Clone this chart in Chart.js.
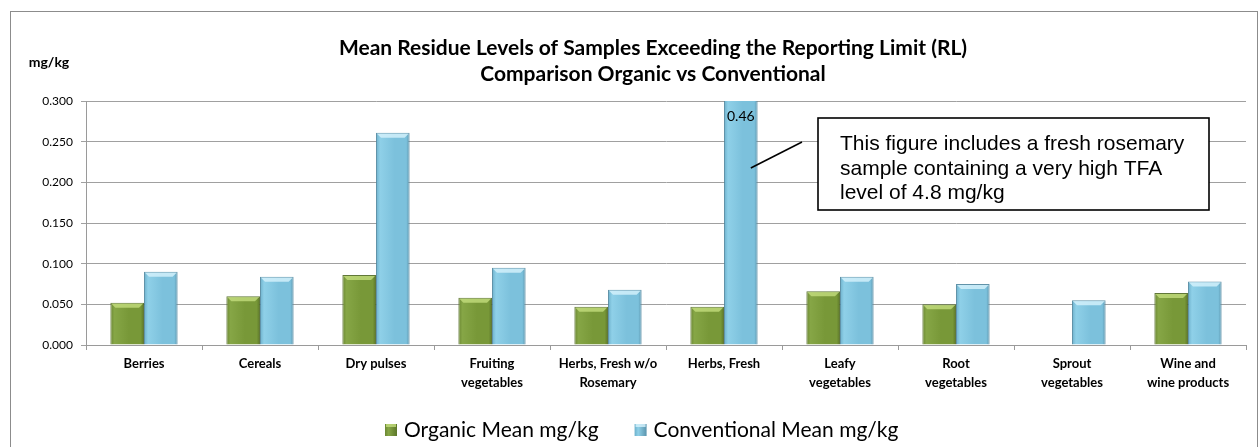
<!DOCTYPE html>
<html>
<head>
<meta charset="utf-8">
<script src="https://cdn.jsdelivr.net/npm/chart.js@4/dist/chart.umd.min.js"></script>
<style>
  html, body { margin: 0; padding: 0; background: #ffffff; }
  #wrap { width: 1260px; height: 447px; }
</style>
</head>
<body>
<div id="wrap"><canvas id="c" width="1260" height="447"></canvas></div>
<script>
// ---- data ----
const categories = [
  "Berries", "Cereals", "Dry pulses", ["Fruiting", "vegetables"],
  ["Herbs, Fresh w/o", "Rosemary"], "Herbs, Fresh", ["Leafy", "vegetables"],
  ["Root", "vegetables"], ["Sprout", "vegetables"], ["Wine and", "wine products"]
];
const organicMean = [0.052, 0.060, 0.086, 0.058, 0.047, 0.047, 0.066, 0.050, null, 0.064];
const conventionalMean = [0.090, 0.084, 0.261, 0.095, 0.068, 0.46, 0.084, 0.075, 0.055, 0.078];
const seriesNames = ["Organic Mean mg/kg", "Conventional Mean mg/kg"];
const yMin = 0, yMax = 0.3, yStep = 0.05;
const titleLines = [
  "Mean Residue Levels of Samples Exceeding the Reporting Limit (RL)",
  "Comparison Organic vs Conventional"
];
const yUnit = "mg/kg";
const noteLines = [
  "This figure includes a fresh rosemary",
  "sample containing a very high TFA",
  "level of 4.8 mg/kg"
];
const noteIndex = 5; // Herbs, Fresh

// ---- styles ----
const CAT_PCT = 0.58;
const palette = [
  { edge: "#6b8733", light: "#86a646", mid: "#789838", dark: "#5c7729", top: "rgba(200,225,130,0.75)", border: "rgba(80,105,35,0.9)" },
  { edge: "#6cb0cb", light: "#8fd0e8", mid: "#7cc1dc", dark: "#5a94ad", top: "rgba(215,242,252,0.8)", border: "rgba(80,135,160,0.9)" }
];

function barFill(ctx) {
  const p = palette[ctx.datasetIndex];
  const chart = ctx.chart;
  if (ctx.type !== 'data' || !chart.chartArea || !chart.scales.x) return p.mid;
  const xs = chart.scales.x;
  const cw = xs.width / categories.length;
  const barW = cw * CAT_PCT / 2;
  const center = xs.getPixelForValue(ctx.dataIndex);
  const left = center - cw * CAT_PCT / 2 + ctx.datasetIndex * barW;
  const g = chart.ctx.createLinearGradient(left, 0, left + barW, 0);
  g.addColorStop(0, p.edge);
  g.addColorStop(0.12, p.light);
  g.addColorStop(0.55, p.mid);
  g.addColorStop(0.9, p.mid);
  g.addColorStop(1, p.dark);
  return g;
}

const decor = {
  id: 'decor',
  beforeDraw(chart) {
    const c = chart.ctx;
    c.save();
    c.fillStyle = '#ffffff';
    c.fillRect(0, 0, chart.width, chart.height);
    c.strokeStyle = '#8c8c8c';
    c.lineWidth = 1;
    c.strokeRect(10.5, 11.5, 1247, 460);
    c.restore();
  },
  afterDatasetsDraw(chart) {
    const c = chart.ctx;
    const area = chart.chartArea;
    c.save();
    c.beginPath();
    c.rect(area.left, area.top, area.right - area.left, area.bottom - area.top);
    c.clip();
    chart.data.datasets.forEach((ds, di) => {
      const meta = chart.getDatasetMeta(di);
      meta.data.forEach((bar, i) => {
        if (ds.data[i] == null) return;
        if (bar.y < area.top) return;
        const w = bar.width;
        const top = bar.y;
        c.fillStyle = palette[di].top;
        c.beginPath();
        c.moveTo(bar.x - w / 2 + 1, top + 1);
        c.lineTo(bar.x + w / 2 - 1, top + 1);
        c.lineTo(bar.x + w / 2 - 5, top + 5);
        c.lineTo(bar.x - w / 2 + 5, top + 5);
        c.closePath();
        c.fill();
      });
    });
    c.restore();
  },
  afterDraw(chart) {
    const c = chart.ctx;
    const area = chart.chartArea;
    c.save();
    // title
    c.fillStyle = '#000';
    c.textAlign = 'center';
    c.textBaseline = 'middle';
    c.font = 'bold 21px Lato, "Open Sans", sans-serif';
    c.fillText(titleLines[0], 653, 48);
    c.fillText(titleLines[1], 653, 74);
    // unit label
    c.font = 'bold 14px Lato, "Open Sans", sans-serif';
    c.fillText(yUnit, 49, 62);
    // value label for clipped bar
    const meta = chart.getDatasetMeta(1);
    const bar = meta.data[noteIndex];
    c.font = '14px Lato, "Open Sans", sans-serif';
    c.fillText(conventionalMean[noteIndex].toFixed(2), bar.x, area.top + 15);
    // leader line
    c.strokeStyle = '#000';
    c.lineWidth = 1.5;
    c.beginPath();
    c.moveTo(802, 142);
    c.lineTo(bar.x + 10, 168);
    c.stroke();
    // note box
    c.fillStyle = '#fff';
    c.fillRect(818, 118, 391, 92);
    c.lineWidth = 1.6;
    c.strokeRect(818, 118, 391, 92);
    c.fillStyle = '#000';
    c.textAlign = 'left';
    c.textBaseline = 'alphabetic';
    c.font = '21px "Liberation Sans", Arial, sans-serif';
    noteLines.forEach((t, i) => c.fillText(t, 840, 150 + i * 24.5));
    // legend
    c.font = '21px Lato, "Open Sans", sans-serif';
    c.textBaseline = 'middle';
    let x = 385;
    const ly = 430;
    seriesNames.forEach((name, i) => {
      const p = palette[i];
      const g = c.createLinearGradient(x, 0, x + 12, 0);
      g.addColorStop(0, p.edge); g.addColorStop(0.3, p.light); g.addColorStop(1, p.dark);
      c.fillStyle = g;
      c.fillRect(x, ly - 6, 12, 12);
      c.fillStyle = p.top;
      c.fillRect(x + 1, ly - 6, 10, 3);
      c.fillStyle = '#000';
      c.fillText(name, x + 19, ly);
      x += 19 + c.measureText(name).width + 36;
    });
    c.restore();
  }
};

new Chart(document.getElementById('c'), {
  type: 'bar',
  data: {
    labels: categories,
    datasets: [
      { label: seriesNames[0], data: organicMean, backgroundColor: barFill,
        borderColor: palette[0].border, borderWidth: 1, categoryPercentage: CAT_PCT, barPercentage: 1 },
      { label: seriesNames[1], data: conventionalMean, backgroundColor: barFill,
        borderColor: palette[1].border, borderWidth: 1, categoryPercentage: CAT_PCT, barPercentage: 1 }
    ]
  },
  options: {
    responsive: false,
    devicePixelRatio: 1,
    animation: false,
    layout: { padding: { left: 10, right: 14, top: 101, bottom: 0 } },
    plugins: {
      legend: { display: false },
      title: { display: false },
      tooltip: { enabled: false }
    },
    scales: {
      x: {
        offset: true,
        grid: { display: true, offset: true, drawOnChartArea: false, drawTicks: true, tickLength: 5, color: '#9a9a9a' },
        border: { display: true, color: '#9a9a9a' },
        ticks: {
          color: '#000', padding: 4, maxRotation: 0, autoSkip: false,
          font: { family: 'Lato, "Open Sans", sans-serif', size: 13, weight: 'bold', lineHeight: 1.46 }
        },
        afterFit(axis) { axis.height = 102; }
      },
      y: {
        min: yMin, max: yMax,
        grid: { color: '#a0a0a0', tickLength: 5 },
        border: { display: true, color: '#9a9a9a' },
        ticks: {
          stepSize: yStep, color: '#000', padding: 8,
          font: { family: 'Lato, "Open Sans", sans-serif', size: 12 },
          callback: v => Number(v).toFixed(3)
        },
        afterFit(axis) { axis.width = 76; }
      }
    }
  },
  plugins: [decor]
});
</script>
</body>
</html>
